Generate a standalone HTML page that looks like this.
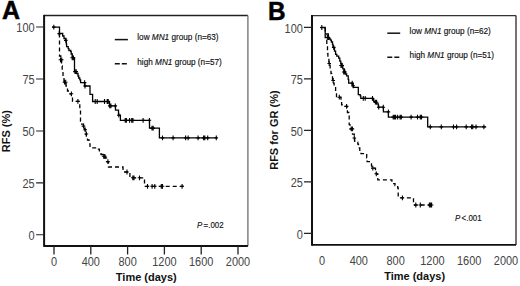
<!DOCTYPE html>
<html><head><meta charset="utf-8"><style>
html,body{margin:0;padding:0;background:#fff;}
body{width:520px;height:286px;overflow:hidden;position:relative;}
svg{position:absolute;left:0;top:0;}
text{font-family:"Liberation Sans", sans-serif;}
.tl{font-size:12.3px;fill:#444;}
.bt{font-size:11px;font-weight:bold;fill:#111;}
.lg{font-size:8.2px;fill:#111;stroke:#111;stroke-width:0.15px;}
.pv{font-size:9.5px;fill:#111;stroke:#111;stroke-width:0.15px;}
.big{font-size:26.2px;font-weight:bold;fill:#000;stroke:#000;stroke-width:0.5px;}
</style></head><body>
<svg width="520" height="286" viewBox="0 0 520 286">
<path d="M44.1,15.5H247.9" stroke="#222" stroke-width="1.4"/>
<path d="M247.9,15.5V246.0" stroke="#777" stroke-width="1.4"/>
<path d="M44.1,246.0H247.9" stroke="#111" stroke-width="2.0"/>
<path d="M44.1,14.9V246.9" stroke="#111" stroke-width="2.0"/>
<path d="M36.1,27.0H44.1M36.1,79.0H44.1M36.1,131.0H44.1M36.1,182.9H44.1M36.1,234.7H44.1" stroke="#222" stroke-width="1.15" fill="none"/>
<text transform="translate(34.6,31.8) scale(0.89,1)" text-anchor="end" class="tl">100</text>
<text transform="translate(34.6,83.8) scale(0.89,1)" text-anchor="end" class="tl">75</text>
<text transform="translate(34.6,135.8) scale(0.89,1)" text-anchor="end" class="tl">50</text>
<text transform="translate(34.6,187.7) scale(0.89,1)" text-anchor="end" class="tl">25</text>
<text transform="translate(34.6,239.5) scale(0.89,1)" text-anchor="end" class="tl">0</text>
<path d="M54.0,246.0V254.5M90.8,246.0V254.5M127.6,246.0V254.5M164.4,246.0V254.5M201.2,246.0V254.5M238.0,246.0V254.5" stroke="#222" stroke-width="1.3" fill="none"/>
<text transform="translate(54.0,265.9) scale(0.89,1)" text-anchor="middle" class="tl">0</text>
<text transform="translate(90.8,265.9) scale(0.89,1)" text-anchor="middle" class="tl">400</text>
<text transform="translate(127.6,265.9) scale(0.89,1)" text-anchor="middle" class="tl">800</text>
<text transform="translate(164.4,265.9) scale(0.89,1)" text-anchor="middle" class="tl">1200</text>
<text transform="translate(201.2,265.9) scale(0.89,1)" text-anchor="middle" class="tl">1600</text>
<text transform="translate(238.0,265.9) scale(0.89,1)" text-anchor="middle" class="tl">2000</text>
<text transform="translate(10.3,131.2) rotate(-90)" text-anchor="middle" class="bt">RFS (%)</text>
<text x="146.3" y="280.8" text-anchor="middle" class="bt">Time (days)</text>
<path d="M114.8,39.6H127.9" stroke="#111" stroke-width="1.5"/>
<path d="M114.8,63.8H127.9" stroke="#111" stroke-width="1.5" stroke-dasharray="5 2"/>
<text transform="translate(137.3,40.0) scale(1.0,1)" class="lg">low <tspan font-style="italic">MN1</tspan> group (n=63)</text>
<text transform="translate(137.3,65.0) scale(1.0,1)" class="lg">high <tspan font-style="italic">MN1</tspan> group (n=57)</text>
<text transform="translate(197.0,228.1) scale(0.83,1)" class="pv"><tspan font-style="italic">P</tspan><tspan dx="1.6">=.002</tspan></text>
<path d="M52.2,27.1H59.5V33.5H62.7V36H64V38.5H65.8V40.4H66.3V44H66.6V46.7H68.2V48.6H68.9V50.5H70.8V51.7H71.2V54H72.3V56.5H72.8V57.8H74.5V71.6H76.5V73.5H78V76H78.7V78H79.8V79.8H80.6V82.6H84.6V86H90V94.4H92.6V101.5H109.5V105.9H115.5V110.2H118.5V115.2H120.4V120.3H149.5V128.1H159.4V137.9H216.3" stroke="#000" stroke-width="1.3" fill="none"/>
<path d="M53.8,24.700000000000003V29.5M52.0,27.1H55.599999999999994M59.2,31.200000000000003V36.0M57.400000000000006,33.6H61.0M65.8,38.0V42.8M64.0,40.4H67.6M72.2,55.4V60.199999999999996M70.4,57.8H74.0M73.4,55.4V60.199999999999996M71.60000000000001,57.8H75.2M75,69.19999999999999V74.0M73.2,71.6H76.8M76.2,69.19999999999999V74.0M74.4,71.6H78.0M84.6,80.19999999999999V85.0M82.8,82.6H86.39999999999999M85,83.6V88.4M83.2,86H86.8M95.2,99.1V103.9M93.4,101.5H97.0M97.2,99.1V103.9M95.4,101.5H99.0M104.5,99.1V103.9M102.7,101.5H106.3M107.2,99.1V103.9M105.4,101.5H109.0M108.2,99.1V103.9M106.4,101.5H110.0M109.7,103.5V108.30000000000001M107.9,105.9H111.5M110.9,103.5V108.30000000000001M109.10000000000001,105.9H112.7M115.3,103.5V108.30000000000001M113.5,105.9H117.1M118.8,112.8V117.60000000000001M117.0,115.2H120.6M125.2,117.89999999999999V122.7M123.4,120.3H127.0M126.4,117.89999999999999V122.7M124.60000000000001,120.3H128.20000000000002M129.6,117.89999999999999V122.7M127.8,120.3H131.4M131.7,117.89999999999999V122.7M129.89999999999998,120.3H133.5M132.9,117.89999999999999V122.7M131.1,120.3H134.70000000000002M143.1,117.89999999999999V122.7M141.29999999999998,120.3H144.9M149.4,117.89999999999999V122.7M147.6,120.3H151.20000000000002M152,125.69999999999999V130.5M150.2,128.1H153.8M153.2,125.69999999999999V130.5M151.39999999999998,128.1H155.0M162.5,135.5V140.3M160.7,137.9H164.3M173.1,135.5V140.3M171.29999999999998,137.9H174.9M185.6,135.5V140.3M183.79999999999998,137.9H187.4M188.1,135.5V140.3M186.29999999999998,137.9H189.9M198.1,135.5V140.3M196.29999999999998,137.9H199.9M203.6,135.5V140.3M201.79999999999998,137.9H205.4M204.8,135.5V140.3M203.0,137.9H206.60000000000002M207.7,135.5V140.3M205.89999999999998,137.9H209.5M216.3,135.5V140.3M214.5,137.9H218.10000000000002" stroke="#000" stroke-width="1.1" fill="none"/>
<path d="M59.5,33.5V56H60.8V60H61.5V66H62.2V72H63V78H64V82.2H66V86H67.5V91H69V93.8H71.4V97H72.5V101.4H79.8V110H80.5V121.1H81.6V124.2H83.5V126.1H84.5V129.8H85.5V134H86.4V137.5H87.5V140H89V143.8H90V147.8H97.5V149.2H99.4V152.6H101V154.5H103V156.3H105V158H106.5V161.6H108.5V167H123V172H129.9V177.8H144.5V186.3H183.8" stroke="#000" stroke-width="1.3" fill="none" stroke-dasharray="4 3"/>
<path d="M60.5,57.4V62.199999999999996M58.7,59.8H62.3M61.7,57.4V62.199999999999996M59.900000000000006,59.8H63.5M64.5,79.8V84.60000000000001M62.7,82.2H66.3M65.7,79.8V84.60000000000001M63.900000000000006,82.2H67.5M71.4,91.39999999999999V96.2M69.60000000000001,93.8H73.2M77.9,99.0V103.80000000000001M76.10000000000001,101.4H79.7M83.5,123.69999999999999V128.5M81.7,126.1H85.3M85.2,127.4V132.20000000000002M83.4,129.8H87.0M86.4,131.6V136.4M84.60000000000001,134H88.2M103.7,153.9V158.70000000000002M101.9,156.3H105.5M104.9,153.9V158.70000000000002M103.10000000000001,156.3H106.7M107.9,159.2V164.0M106.10000000000001,161.6H109.7M127,169.6V174.4M125.2,172H128.8M132.8,175.4V180.20000000000002M131.0,177.8H134.60000000000002M134,175.4V180.20000000000002M132.2,177.8H135.8M139.5,175.4V180.20000000000002M137.7,177.8H141.3M147.5,183.9V188.70000000000002M145.7,186.3H149.3M152.1,183.9V188.70000000000002M150.29999999999998,186.3H153.9M154.8,183.9V188.70000000000002M153.0,186.3H156.60000000000002M161.3,183.9V188.70000000000002M159.5,186.3H163.10000000000002M162.5,183.9V188.70000000000002M160.7,186.3H164.3M182.1,183.9V188.70000000000002M180.29999999999998,186.3H183.9" stroke="#000" stroke-width="1.1" fill="none"/>
<text transform="translate(2.0,19.4) scale(0.955,1)" class="big">A</text>
<path d="M312.0,15.6H516.0" stroke="#333" stroke-width="1.4"/>
<path d="M516.0,15.6V244.9" stroke="#444" stroke-width="1.5"/>
<path d="M312.0,244.9H516.0" stroke="#111" stroke-width="1.8"/>
<path d="M312.0,15.0V245.8" stroke="#111" stroke-width="2.0"/>
<path d="M304.0,27.3H312.0M304.0,78.8H312.0M304.0,130.4H312.0M304.0,181.9H312.0M304.0,233.4H312.0" stroke="#222" stroke-width="1.15" fill="none"/>
<text transform="translate(302.8,32.5) scale(0.89,1)" text-anchor="end" class="tl">100</text>
<text transform="translate(302.8,84.0) scale(0.89,1)" text-anchor="end" class="tl">75</text>
<text transform="translate(302.8,135.6) scale(0.89,1)" text-anchor="end" class="tl">50</text>
<text transform="translate(302.8,187.1) scale(0.89,1)" text-anchor="end" class="tl">25</text>
<text transform="translate(302.8,238.6) scale(0.89,1)" text-anchor="end" class="tl">0</text>
<text transform="translate(322.0,265.3) scale(0.89,1)" text-anchor="middle" class="tl">0</text>
<text transform="translate(358.8,265.3) scale(0.89,1)" text-anchor="middle" class="tl">400</text>
<text transform="translate(395.6,265.3) scale(0.89,1)" text-anchor="middle" class="tl">800</text>
<text transform="translate(432.4,265.3) scale(0.89,1)" text-anchor="middle" class="tl">1200</text>
<text transform="translate(469.2,265.3) scale(0.89,1)" text-anchor="middle" class="tl">1600</text>
<text transform="translate(506.0,265.3) scale(0.89,1)" text-anchor="middle" class="tl">2000</text>
<text transform="translate(277.5,130.1) rotate(-90)" text-anchor="middle" class="bt">RFS for GR (%)</text>
<text x="414.6" y="279.8" text-anchor="middle" class="bt">Time (days)</text>
<path d="M387.3,33.2H400.2" stroke="#111" stroke-width="1.5"/>
<path d="M387.3,57.3H400.2" stroke="#111" stroke-width="1.5" stroke-dasharray="5 2"/>
<text transform="translate(409.6,34.0) scale(1.0,1)" class="lg">low <tspan font-style="italic">MN1</tspan> group (n=62)</text>
<text transform="translate(409.6,58.0) scale(1.0,1)" class="lg">high <tspan font-style="italic">MN1</tspan> group (n=51)</text>
<text transform="translate(455.0,221.3) scale(0.83,1)" class="pv"><tspan font-style="italic">P</tspan><tspan dx="1.6">&lt;.001</tspan></text>
<path d="M320.6,27.5H325.2V34H328.3V37.5H329.3V39H330.5V40.2H331.4V42H332.5V44.5H333V47.4H334.5V51.2H335.6V54.3H336.8V56.2H338.7V58.2H339.8V61.2H340.8V63.5H341.6V65.5H342.8V68.9H344.3V72H345.5V74H346.6V75.8H348.2V79.3H348.7V83.1H352.2V85.8H353.3V87.3H358.3V94.6H360.2V95.8H360.8V98.4H372.5V99.5H373.7V101.5H374.8V102.2H376.5V103.8H378.3V107.2H383.4V111.9H388.4V117.1H427.7V126.9H486.2" stroke="#000" stroke-width="1.3" fill="none"/>
<path d="M321.8,25.1V29.9M320.0,27.5H323.6M327.3,35.1V39.9M325.5,37.5H329.1M328.5,35.1V39.9M326.7,37.5H330.3M333.7,45.0V49.8M331.9,47.4H335.5M341,63.1V67.9M339.2,65.5H342.8M342.2,63.1V67.9M340.4,65.5H344.0M343.7,69.6V74.4M341.9,72H345.5M344.9,69.6V74.4M343.09999999999997,72H346.7M352.2,80.69999999999999V85.5M350.4,83.1H354.0M353.3,83.39999999999999V88.2M351.5,85.8H355.1M363.3,96.0V100.80000000000001M361.5,98.4H365.1M365.2,96.0V100.80000000000001M363.4,98.4H367.0M372.5,96.0V100.80000000000001M370.7,98.4H374.3M375.4,99.8V104.60000000000001M373.59999999999997,102.2H377.2M376.6,99.8V104.60000000000001M374.8,102.2H378.40000000000003M378.7,104.8V109.60000000000001M376.9,107.2H380.5M383.3,104.8V109.60000000000001M381.5,107.2H385.1M388.4,109.5V114.30000000000001M386.59999999999997,111.9H390.2M393.2,114.69999999999999V119.5M391.4,117.1H395.0M394.4,114.69999999999999V119.5M392.59999999999997,117.1H396.2M395.6,114.69999999999999V119.5M393.8,117.1H397.40000000000003M397.6,114.69999999999999V119.5M395.8,117.1H399.40000000000003M400.1,114.69999999999999V119.5M398.3,117.1H401.90000000000003M401.3,114.69999999999999V119.5M399.5,117.1H403.1M411.1,114.69999999999999V119.5M409.3,117.1H412.90000000000003M417.5,114.69999999999999V119.5M415.7,117.1H419.3M420.3,114.69999999999999V119.5M418.5,117.1H422.1M421.5,114.69999999999999V119.5M419.7,117.1H423.3M430.3,124.5V129.3M428.5,126.9H432.1M441.3,124.5V129.3M439.5,126.9H443.1M453.5,124.5V129.3M451.7,126.9H455.3M456.6,124.5V129.3M454.8,126.9H458.40000000000003M466.2,124.5V129.3M464.4,126.9H468.0M471.6,124.5V129.3M469.8,126.9H473.40000000000003M472.8,124.5V129.3M471.0,126.9H474.6M476,124.5V129.3M474.2,126.9H477.8M483.9,124.5V129.3M482.09999999999997,126.9H485.7" stroke="#000" stroke-width="1.1" fill="none"/>
<path d="M325.2,27.5V37.5H326.8V45H327.5V53.5H327.9V58.5H328.9V63.5H330.1V68.9H331V73.5H331.6V76.2H332.5V80.5H333.5V83.1H334.1V86H335.6V92.3H336.5V97.2H341V101.8H341.6V104.8H344V106.4H347V108.7H347.4V112.5H348.9V115.2H349.2V124.7H350V128.9H352.5V134.2H354.3V138H354.7V142.2H357.8V144.2H358.5V148H359.8V151.3H361V153.6H366.7V157.8H367.1V161.7H370V163.2H371.5V166.2H372.8V168.1H375.5V171.5H376.3V173.8H377.8V179.8H391.9V183.6H395V185.5H397.7V187.8H398.2V197.8H413.5V205H433.2" stroke="#000" stroke-width="1.3" fill="none" stroke-dasharray="4 3"/>
<path d="M329.2,61.1V65.9M327.4,63.5H331.0M333.2,78.1V82.9M331.4,80.5H335.0M339.3,94.8V99.60000000000001M337.5,97.2H341.1M346.6,104.0V108.80000000000001M344.8,106.4H348.40000000000003M351.2,126.5V131.3M349.4,128.9H353.0M352.4,126.5V131.3M350.59999999999997,128.9H354.2M354.3,135.6V140.4M352.5,138H356.1M372.8,165.7V170.5M371.0,168.1H374.6M376.3,171.4V176.20000000000002M374.5,173.8H378.1M402.4,195.4V200.20000000000002M400.59999999999997,197.8H404.2M415.8,202.6V207.4M414.0,205H417.6M420.3,202.6V207.4M418.5,205H422.1M429.4,202.6V207.4M427.59999999999997,205H431.2M430.6,202.6V207.4M428.8,205H432.40000000000003M431.6,202.6V207.4M429.8,205H433.40000000000003" stroke="#000" stroke-width="1.1" fill="none"/>
<text transform="translate(268.0,19.7) scale(0.93,1)" class="big">B</text>
</svg>
</body></html>
